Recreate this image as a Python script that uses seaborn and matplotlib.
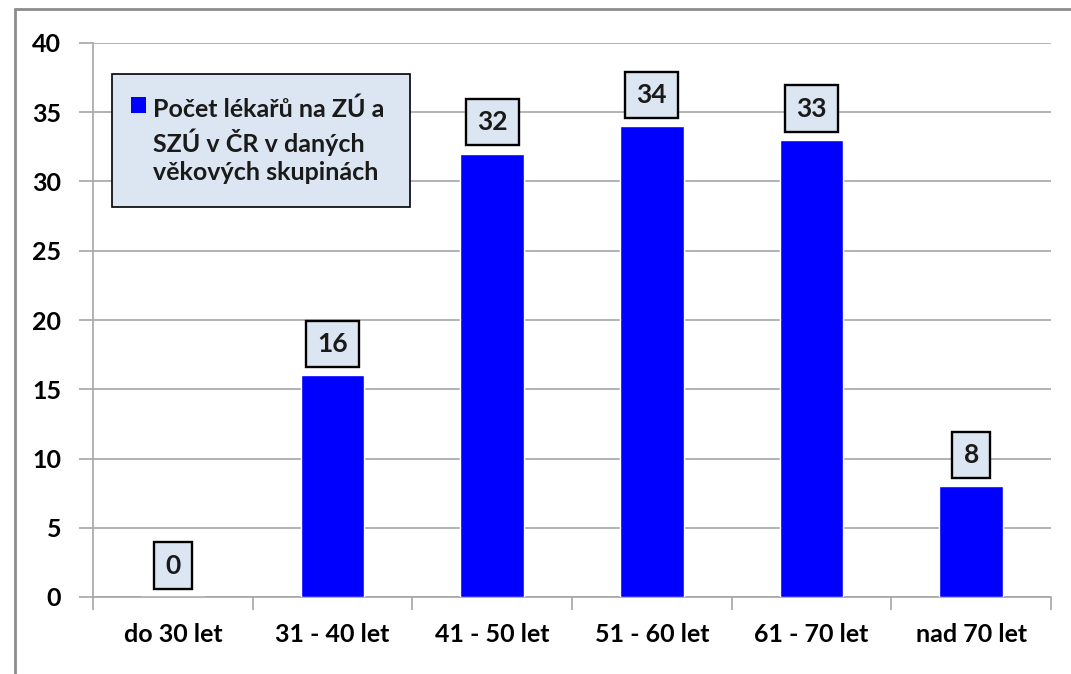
import matplotlib
matplotlib.use("Agg")
import matplotlib.pyplot as plt
import seaborn as sns
from matplotlib.patches import Rectangle
from matplotlib.lines import Line2D

categories = ["do 30 let", "31 - 40 let", "41 - 50 let", "51 - 60 let", "61 - 70 let", "nad 70 let"]
values = [0, 16, 32, 34, 33, 8]
series_label = "Počet lékařů na ZÚ a\nSZÚ v ČR v daných\nvěkových skupinách"
yticks = [0, 5, 10, 15, 20, 25, 30, 35, 40]

W, H = 1071, 674

sns.set_theme(style="white")
plt.rcParams['font.family'] = ['Lato', 'DejaVu Sans']
plt.rcParams['font.weight'] = 'bold'

fig = plt.figure(figsize=(W / 100, H / 100), dpi=100)
ax = fig.add_axes([93 / W, 1 - 597 / H, 958 / W, 554 / H])

sns.barplot(x=categories, y=values, color="#0000ff", saturation=1, width=0.4, ax=ax, zorder=3)

ax.set_ylim(0, 40)
ax.set_xlim(-0.5, len(categories) - 0.5)
ax.set_yticks(yticks)
ax.set_yticklabels([str(t) for t in yticks], fontsize=18, fontweight='bold', color='black')
ax.set_xticks(range(len(categories)))
ax.set_xticklabels(categories, fontsize=18, fontweight='bold', color='black')
ax.set_xlabel("")
ax.set_ylabel("")
ax.yaxis.grid(True, color="#a6a6a6", linewidth=1.2, zorder=0)
ax.set_axisbelow(True)

for s in ["top", "right"]:
    ax.spines[s].set_visible(False)
for s in ["left", "bottom"]:
    ax.spines[s].set_color("#a6a6a6")
    ax.spines[s].set_linewidth(1.2)

# y ticks outward, x ticks at the category boundaries
ax.tick_params(axis='y', which='major', direction='out', length=10, width=1.2, color="#a6a6a6", left=True, pad=13)
ax.tick_params(axis='x', which='major', length=0, pad=19)
ax.set_xticks([i - 0.5 for i in range(len(categories) + 1)], minor=True)
ax.tick_params(axis='x', which='minor', direction='out', length=9, width=1.2, color="#a6a6a6", bottom=True)

for i, v in enumerate(values):
    ax.annotate(str(v), (i, v), xytext=(0, 14), textcoords='offset points',
                ha='center', va='bottom', fontsize=19, fontweight='bold', color='#1a1a1a',
                bbox=dict(boxstyle='square,pad=0.42', fc='#dce6f2', ec='black', lw=1.7), zorder=5)

# legend box drawn by hand so the marker sits beside the first line
fig.add_artist(Rectangle((112 / W, 1 - 207 / H), 298 / W, 133 / H, transform=fig.transFigure,
                         fc='#dce6f2', ec='black', lw=1.2, zorder=6))
fig.add_artist(Rectangle((131 / W, 1 - 113 / H), 15 / W, 16 / H, transform=fig.transFigure,
                         fc='#0000ff', ec='none', zorder=7))
fig.text(153 / W, 1 - 141 / H, series_label, ha='left', va='center', fontsize=18,
         fontweight='bold', color='#1a1a1a', linespacing=1.3, zorder=7)

# outer chart frame (left and top edges visible)
fig.add_artist(Line2D([15 / W, 15 / W], [0, 1 - 9 / H], transform=fig.transFigure, color="#8c8c8c", lw=2))
fig.add_artist(Line2D([15 / W, 1], [1 - 9 / H, 1 - 9 / H], transform=fig.transFigure, color="#8c8c8c", lw=2))

fig.savefig("out.png", dpi=100)
